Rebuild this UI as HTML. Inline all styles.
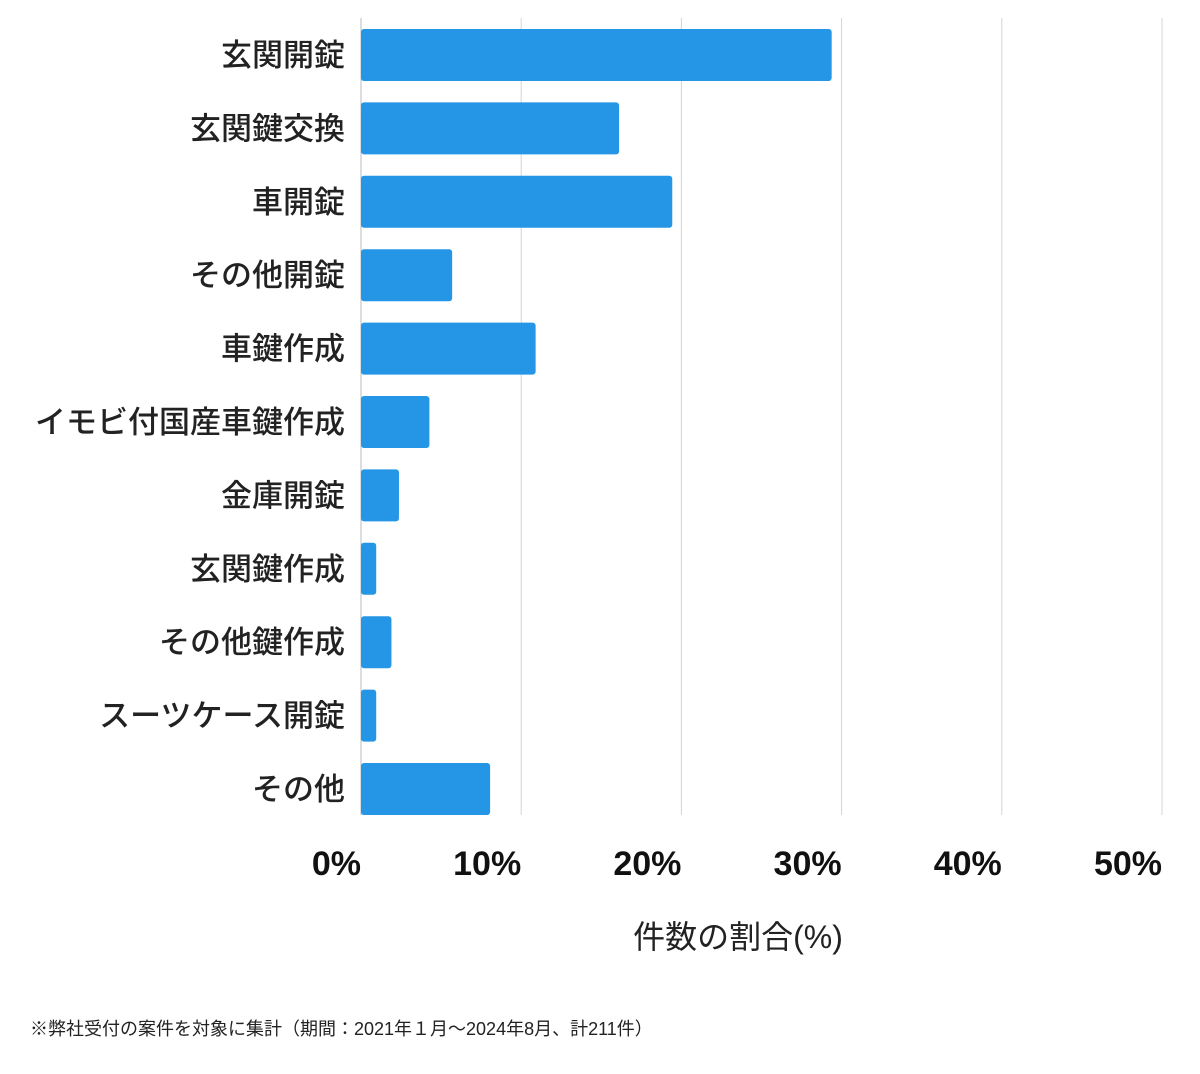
<!DOCTYPE html>
<html><head><meta charset="utf-8"><style>
body{margin:0;background:#fff;width:1200px;height:1069px;overflow:hidden;font-family:"Liberation Sans","Noto Sans CJK JP",sans-serif;}
</style></head><body>
<svg id="chart" width="1200" height="1069" xmlns="http://www.w3.org/2000/svg" font-family="Liberation Sans, Noto Sans CJK JP, sans-serif">
<g id="grid"></g><g id="bars"></g><g id="cats"></g><g id="ticks"></g>
<text x="738" y="948" text-anchor="middle" font-size="32" fill="#222">件数の割合(%)</text>
<text x="30" y="1035" font-size="18" fill="#222">※弊社受付の案件を対象に集計（期間：2021年１月〜2024年8月、計211件）</text>
</svg>
<script>
const categories=["玄関開錠","玄関鍵交換","車開錠","その他開錠","車鍵作成","イモビ付国産車鍵作成","金庫開錠","玄関鍵作成","その他鍵作成","スーツケース開錠","その他"];
const values=[29.38,16.11,19.43,5.69,10.9,4.27,2.37,0.95,1.9,0.95,8.06];
const tickValues=[0,10,20,30,40,50];
const tickLabels=["0%","10%","20%","30%","40%","50%"];
const NS="http://www.w3.org/2000/svg";
const x0=361,x1=1162,xMax=50;
const xs=v=>x0+(x1-x0)*v/xMax;
const yTop=29,step=73.4,bh=52;
const ys=i=>yTop+i*step;
function mk(t,a){const e=document.createElementNS(NS,t);for(const k in a)e.setAttribute(k,a[k]);return e;}
const grid=document.getElementById('grid'),bars=document.getElementById('bars'),cats=document.getElementById('cats'),ticks=document.getElementById('ticks');
tickValues.forEach((v,i)=>{
 const l=mk('line',{x1:xs(v),x2:xs(v),y1:18,y2:815,stroke:i==0?'#bbb':'#d4d4d4','stroke-width':1});
 
 
 grid.appendChild(l);
 const t=mk('text',{x:xs(v),y:875,'text-anchor':'end','font-size':34,'font-weight':'bold',fill:'#111'});
 t.textContent=tickLabels[i];
 
 
 ticks.appendChild(t);
});
categories.forEach((c,i)=>{
 const r=mk('rect',{x:x0,y:ys(i),width:xs(values[i])-x0,height:bh,rx:3,fill:'#2596e6'});
 
 
 bars.appendChild(r);
 const t=mk('text',{x:345,y:ys(i)+bh/2+11,'text-anchor':'end','font-size':31,'font-weight':500,fill:'#222'});
 t.textContent=c;
 
 
 cats.appendChild(t);
});
</script>
</body></html>
